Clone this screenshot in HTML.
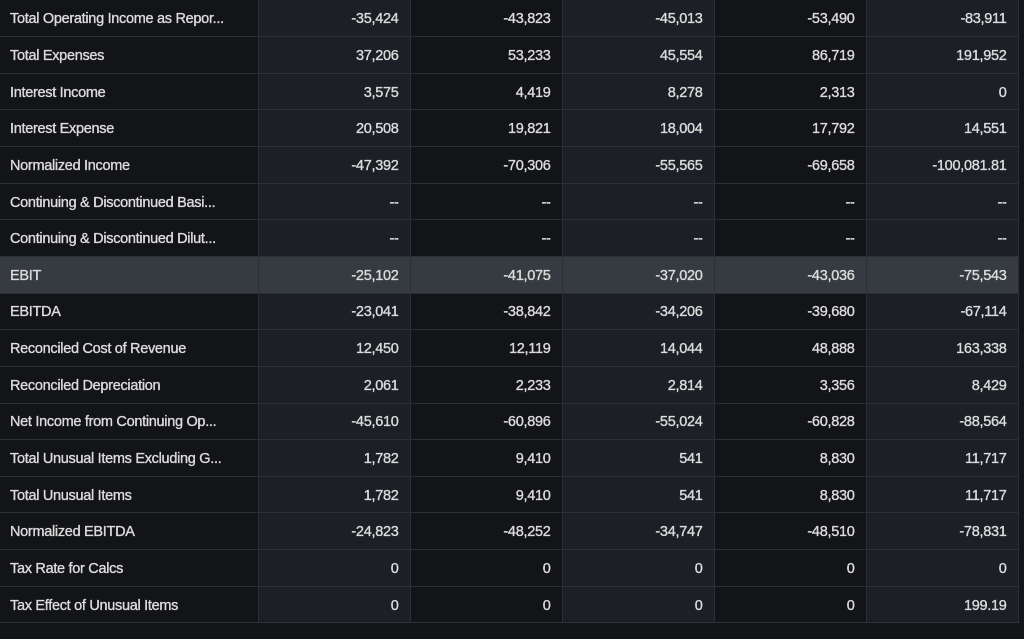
<!DOCTYPE html><html><head><style>
body{margin:0;width:1024px;height:639px;background:#141518;overflow:hidden;font-family:"Liberation Sans",sans-serif;}
table{border-collapse:collapse;position:absolute;left:0;top:0;width:1018px;table-layout:fixed}
td{box-sizing:border-box;height:36.65px;line-height:16px;border-bottom:1px solid #2c3035;border-right:1px solid #2c3035;color:#dcdcdc;font-size:14.5px;padding:2px 11px 0 10px;white-space:nowrap;letter-spacing:-0.3px;-webkit-text-stroke:0.35px #dcdcdc}
td:first-child{text-align:left;background:#131418}
td{text-align:right}
td:nth-child(2),td:nth-child(4),td:nth-child(6){background:#1c1f25}
td:nth-child(3),td:nth-child(5){background:#131418}
tr.h td{background:#353b40}
</style></head><body><table>
<colgroup><col style="width:258px"><col style="width:152px"><col style="width:152px"><col style="width:152px"><col style="width:152px"><col style="width:152px"></colgroup>
<tr><td>Total Operating Income as Repor...</td><td>-35,424</td><td>-43,823</td><td>-45,013</td><td>-53,490</td><td>-83,911</td></tr>
<tr><td>Total Expenses</td><td>37,206</td><td>53,233</td><td>45,554</td><td>86,719</td><td>191,952</td></tr>
<tr><td>Interest Income</td><td>3,575</td><td>4,419</td><td>8,278</td><td>2,313</td><td>0</td></tr>
<tr><td>Interest Expense</td><td>20,508</td><td>19,821</td><td>18,004</td><td>17,792</td><td>14,551</td></tr>
<tr><td>Normalized Income</td><td>-47,392</td><td>-70,306</td><td>-55,565</td><td>-69,658</td><td>-100,081.81</td></tr>
<tr><td>Continuing &amp; Discontinued Basi...</td><td>--</td><td>--</td><td>--</td><td>--</td><td>--</td></tr>
<tr><td>Continuing &amp; Discontinued Dilut...</td><td>--</td><td>--</td><td>--</td><td>--</td><td>--</td></tr>
<tr class="h"><td>EBIT</td><td>-25,102</td><td>-41,075</td><td>-37,020</td><td>-43,036</td><td>-75,543</td></tr>
<tr><td>EBITDA</td><td>-23,041</td><td>-38,842</td><td>-34,206</td><td>-39,680</td><td>-67,114</td></tr>
<tr><td>Reconciled Cost of Revenue</td><td>12,450</td><td>12,119</td><td>14,044</td><td>48,888</td><td>163,338</td></tr>
<tr><td>Reconciled Depreciation</td><td>2,061</td><td>2,233</td><td>2,814</td><td>3,356</td><td>8,429</td></tr>
<tr><td>Net Income from Continuing Op...</td><td>-45,610</td><td>-60,896</td><td>-55,024</td><td>-60,828</td><td>-88,564</td></tr>
<tr><td>Total Unusual Items Excluding G...</td><td>1,782</td><td>9,410</td><td>541</td><td>8,830</td><td>11,717</td></tr>
<tr><td>Total Unusual Items</td><td>1,782</td><td>9,410</td><td>541</td><td>8,830</td><td>11,717</td></tr>
<tr><td>Normalized EBITDA</td><td>-24,823</td><td>-48,252</td><td>-34,747</td><td>-48,510</td><td>-78,831</td></tr>
<tr><td>Tax Rate for Calcs</td><td>0</td><td>0</td><td>0</td><td>0</td><td>0</td></tr>
<tr><td>Tax Effect of Unusual Items</td><td>0</td><td>0</td><td>0</td><td>0</td><td>199.19</td></tr>
</table></body></html>
